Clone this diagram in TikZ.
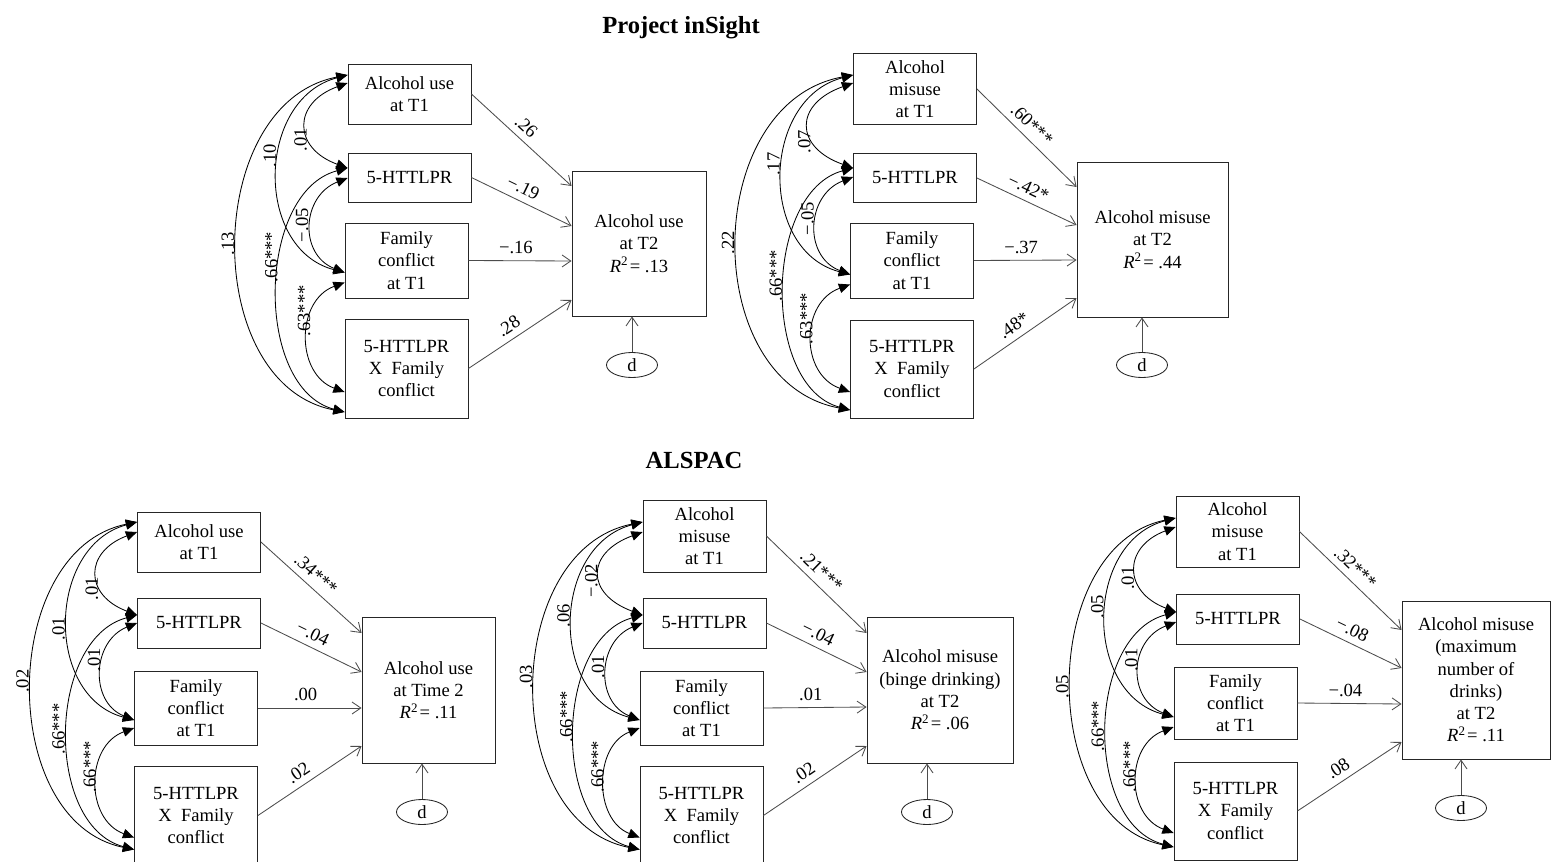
\documentclass[tikz,border=0pt]{standalone}
\usepackage{fontspec}
\setmainfont{Liberation Serif}
\usepackage{tikz}
\usetikzlibrary{arrows.meta,calc,shapes.geometric}
\tikzstyle{varbox} = [draw=black!85, line width=0.6pt, minimum width=3.075cm, inner sep=0pt, align=center, font=\fontsize{13.2}{15.8}\selectfont]
\tikzstyle{err} = [draw=black!85, line width=0.6pt, ellipse, minimum width=1.275cm, minimum height=0.625cm, inner sep=0pt, font=\fontsize{13.2}{15.8}\selectfont]
\tikzstyle{reg} = [line width=0.6pt, draw=black!70, ->, >={Straight Barb[length=0.22cm, width=0.3cm]}]
\tikzstyle{cov} = [line width=0.6pt, <->, >={Triangle[length=0.28cm, width=0.24cm]}]
\tikzstyle{coef} = [pos=.46, sloped, above, inner sep=4.5pt, font=\fontsize{13.2}{15.8}\selectfont]
\tikzstyle{covlab} = [rotate=90, anchor=south, inner sep=2pt, font=\fontsize{13.2}{15.8}\selectfont]
\tikzstyle{heading} = [font=\fontsize{17.5}{21}\selectfont\bfseries]

\begin{document}
\begin{tikzpicture}[x=0.025cm, y=-0.025cm]
        \useasboundingbox[fill=white] (0,0) rectangle (1551,861);

        % Project inSight
        \node[heading] (ttop) at (681,28) {Project inSight};

        \node[varbox, minimum height=1.5cm] (ia1) at (409.5,94) {Alcohol use\\at T1};
        \node[varbox, minimum height=1.225cm] (ia2) at (409.5,177.5) {5-HTTLPR};
        \node[varbox, minimum height=1.875cm] (ia3) at (406.5,260.5) {Family\\conflict\\at T1};
        \node[varbox, minimum height=2.475cm] (ia4) at (406.5,368.5) {5-HTTLPR\\X~~Family\\conflict};
        \node[varbox, minimum width=3.35cm, minimum height=3.625cm] (iay) at (639,243.5) {Alcohol use\\at T2\\\textit{R}\textsuperscript{2}\kern1pt= .13};
        \node[err] (iad) at (632,365) {d};

        \draw[reg] (ia1.east) -- ($(iay.west)+(0,-57.5)$) node[coef] {.26};
        \draw[reg] (ia2.east) -- ($(iay.west)+(0,-17.5)$) node[coef] {−.19};
        \draw[reg] (ia3.east) -- ($(iay.west)+(0,17.5)$) node[coef] {−.16};
        \draw[reg] (ia4.east) -- ($(iay.west)+(0,56.5)$) node[coef] {.28};
        \draw[reg] (iad) -- (iad |- iay.south);

        \draw[cov] ($(ia2.west)+(0,-9.5)$) .. controls +(-55,-20) and +(-55,20) .. ($(ia1.west)+(0,-11)$) node[covlab, pos=.35] {.01};
        \draw[cov] ($(ia3.west)+(0,12)$) .. controls +(-91,-24) and +(-91,24) .. ($(ia1.west)+(0,-19)$) node[covlab, pos=.57] {.10};
        \draw[cov] ($(ia4.west)+(0,43.5)$) .. controls +(-145,-28) and +(-145,28) .. ($(ia1.west)+(0,-19)$) node[covlab, pos=.5] {.13};
        \draw[cov] ($(ia3.west)+(0,12)$) .. controls +(-46,-18) and +(-46,18) .. ($(ia2.west)+(0,0.5)$) node[covlab, pos=.5] {−.05};
        \draw[cov] ($(ia4.west)+(0,43.5)$) .. controls +(-91,-24) and +(-91,24) .. ($(ia2.west)+(0,-9.5)$) node[covlab, pos=.6] {.66***};
        \draw[cov] ($(ia4.west)+(0,23.5)$) .. controls +(-49,-18) and +(-49,18) .. ($(ia3.west)+(0,22)$) node[covlab, pos=.7] {.63***};

        \node[varbox, minimum height=1.775cm] (ib1) at (915,89) {Alcohol\\misuse\\at T1};
        \node[varbox, minimum height=1.225cm] (ib2) at (915,178) {5-HTTLPR};
        \node[varbox, minimum height=1.875cm] (ib3) at (912,260.5) {Family\\conflict\\at T1};
        \node[varbox, minimum height=2.45cm] (ib4) at (912,369) {5-HTTLPR\\X~~Family\\conflict};
        \node[varbox, minimum width=3.775cm, minimum height=3.875cm] (iby) at (1152.5,239.5) {Alcohol misuse\\at T2\\\textit{R}\textsuperscript{2}\kern1pt= .44};
        \node[err] (ibd) at (1142,365) {d};

        \draw[reg] (ib1.east) -- ($(iby.west)+(0,-52.5)$) node[coef] {.60***};
        \draw[reg] (ib2.east) -- ($(iby.west)+(0,-14.5)$) node[coef] {−.42*};
        \draw[reg] (ib3.east) -- ($(iby.west)+(0,20.5)$) node[coef] {−.37};
        \draw[reg] (ib4.east) -- ($(iby.west)+(0,58.5)$) node[coef] {.48*};
        \draw[reg] (ibd) -- (ibd |- iby.south);

        \draw[cov] ($(ib2.west)+(0,-10)$) .. controls +(-59,-21) and +(-59,21) .. ($(ib1.west)+(0,-6)$) node[covlab, pos=.33] {.07};
        \draw[cov] ($(ib3.west)+(0,14)$) .. controls +(-92,-24) and +(-92,24) .. ($(ib1.west)+(0,-14)$) node[covlab, pos=.54] {.17};
        \draw[cov] ($(ib4.west)+(0,41)$) .. controls +(-152,-28) and +(-152,28) .. ($(ib1.west)+(0,-14)$) node[covlab, pos=.5] {.22};
        \draw[cov] ($(ib3.west)+(0,14)$) .. controls +(-47,-18) and +(-47,18) .. ($(ib2.west)+(0,-1)$) node[covlab, pos=.56] {−.05};
        \draw[cov] ($(ib4.west)+(0,41)$) .. controls +(-89,-24) and +(-89,24) .. ($(ib2.west)+(0,-10)$) node[covlab, pos=.54] {.66***};
        \draw[cov] ($(ib4.west)+(0,23)$) .. controls +(-50,-18) and +(-50,18) .. ($(ib3.west)+(0,24)$) node[covlab, pos=.65] {.63***};

        % ALSPAC
        \node[heading] (tbot) at (694,460) {ALSPAC};

        \node[varbox, minimum height=1.5cm] (aa1) at (199,542) {Alcohol use\\at T1};
        \node[varbox, minimum height=1.25cm] (aa2) at (199,623) {5-HTTLPR};
        \node[varbox, minimum height=1.85cm] (aa3) at (196,708) {Family\\conflict\\at T1};
        \node[varbox, minimum height=2.475cm] (aa4) at (196,815.5) {5-HTTLPR\\X~~Family\\conflict};
        \node[varbox, minimum width=3.325cm, minimum height=3.65cm] (aay) at (428.5,690) {Alcohol use\\at Time 2\\\textit{R}\textsuperscript{2}\kern1pt= .11};
        \node[err] (aad) at (422,812) {d};

        \draw[reg] (aa1.east) -- ($(aay.west)+(0,-57)$) node[coef] {.34***};
        \draw[reg] (aa2.east) -- ($(aay.west)+(0,-18)$) node[coef] {−.04};
        \draw[reg] (aa3.east) -- ($(aay.west)+(0,18)$) node[coef] {.00};
        \draw[reg] (aa4.east) -- ($(aay.west)+(0,56)$) node[coef] {.02};
        \draw[reg] (aad) -- (aad |- aay.south);

        \draw[cov] ($(aa2.west)+(0,-8)$) .. controls +(-53,-20) and +(-53,20) .. ($(aa1.west)+(0,-10)$) node[covlab, pos=.34] {.01};
        \draw[cov] ($(aa3.west)+(0,12)$) .. controls +(-90,-24) and +(-90,24) .. ($(aa1.west)+(0,-20)$) node[covlab, pos=.47] {.01};
        \draw[cov] ($(aa4.west)+(0,34)$) .. controls +(-138,-28) and +(-138,28) .. ($(aa1.west)+(0,-20)$) node[covlab, pos=.51] {.02};
        \draw[cov] ($(aa3.west)+(0,12)$) .. controls +(-45,-18) and +(-45,18) .. ($(aa2.west)+(0,0)$) node[covlab, pos=.6] {.01};
        \draw[cov] ($(aa4.west)+(0,34)$) .. controls +(-90,-24) and +(-90,24) .. ($(aa2.west)+(0,-8)$) node[covlab, pos=.51] {.66***};
        \draw[cov] ($(aa4.west)+(0,22)$) .. controls +(-49,-18) and +(-49,18) .. ($(aa3.west)+(0,20)$) node[covlab, pos=.62] {.66***};

        \node[varbox, minimum height=1.8cm] (ab1) at (704.5,536) {Alcohol\\misuse\\at T1};
        \node[varbox, minimum height=1.25cm] (ab2) at (704.5,623) {5-HTTLPR};
        \node[varbox, minimum height=1.85cm] (ab3) at (701.5,708) {Family\\conflict\\at T1};
        \node[varbox, minimum height=2.475cm] (ab4) at (701.5,815.5) {5-HTTLPR\\X~~Family\\conflict};
        \node[varbox, minimum width=3.65cm, minimum height=3.65cm] (aby) at (940,690) {Alcohol misuse\\(binge drinking)\\at T2\\\textit{R}\textsuperscript{2}\kern1pt= .06};
        \node[err] (abd) at (927,812) {d};

        \draw[reg] (ab1.east) -- ($(aby.west)+(0,-57)$) node[coef] {.21***};
        \draw[reg] (ab2.east) -- ($(aby.west)+(0,-18)$) node[coef] {−.04};
        \draw[reg] (ab3.east) -- ($(aby.west)+(0,17)$) node[coef] {.01};
        \draw[reg] (ab4.east) -- ($(aby.west)+(0,56)$) node[coef] {.02};
        \draw[reg] (abd) -- (abd |- aby.south);

        \draw[cov] ($(ab2.west)+(0,-8)$) .. controls +(-57,-21) and +(-57,21) .. ($(ab1.west)+(0,-4)$) node[covlab, pos=.42] {−.02};
        \draw[cov] ($(ab3.west)+(0,12)$) .. controls +(-91,-24) and +(-91,24) .. ($(ab1.west)+(0,-14)$) node[covlab, pos=.52] {.06};
        \draw[cov] ($(ab4.west)+(0,34)$) .. controls +(-141,-28) and +(-141,28) .. ($(ab1.west)+(0,-14)$) node[covlab, pos=.52] {.03};
        \draw[cov] ($(ab3.west)+(0,12)$) .. controls +(-45,-18) and +(-45,18) .. ($(ab2.west)+(0,0)$) node[covlab, pos=.54] {.01};
        \draw[cov] ($(ab4.west)+(0,34)$) .. controls +(-88,-24) and +(-88,24) .. ($(ab2.west)+(0,-8)$) node[covlab, pos=.55] {.66***};
        \draw[cov] ($(ab4.west)+(0,22)$) .. controls +(-46,-18) and +(-46,18) .. ($(ab3.west)+(0,20)$) node[covlab, pos=.62] {.66***};

        \node[varbox, minimum height=1.775cm] (ac1) at (1237.5,531.5) {Alcohol\\misuse\\at T1};
        \node[varbox, minimum height=1.25cm] (ac2) at (1238,619) {5-HTTLPR};
        \node[varbox, minimum height=1.8cm] (ac3) at (1235.5,703) {Family\\conflict\\at T1};
        \node[varbox, minimum height=2.45cm] (ac4) at (1235.5,811) {5-HTTLPR\\X~~Family\\conflict};
        \node[varbox, minimum width=3.7cm, minimum height=3.95cm] (acy) at (1476,680) {Alcohol misuse\\(maximum\\number of\\drinks)\\at T2\\\textit{R}\textsuperscript{2}\kern1pt= .11};
        \node[err] (acd) at (1461,808) {d};

        \draw[reg] (ac1.east) -- ($(acy.west)+(0,-50)$) node[coef] {.32***};
        \draw[reg] (ac2.east) -- ($(acy.west)+(0,-12)$) node[coef] {−.08};
        \draw[reg] (ac3.east) -- ($(acy.west)+(0,24)$) node[coef] {−.04};
        \draw[reg] (ac4.east) -- ($(acy.west)+(0,62)$) node[coef] {.08};
        \draw[reg] (acd) -- (acd |- acy.south);

        \draw[cov] ($(ac2.west)+(0,-7)$) .. controls +(-53,-20) and +(-53,20) .. ($(ac1.west)+(0,-4.5)$) node[covlab, pos=.41] {.01};
        \draw[cov] ($(ac3.west)+(0,14)$) .. controls +(-91,-24) and +(-91,24) .. ($(ac1.west)+(0,-13.5)$) node[covlab, pos=.54] {.05};
        \draw[cov] ($(ac4.west)+(0,36)$) .. controls +(-137,-28) and +(-137,28) .. ($(ac1.west)+(0,-13.5)$) node[covlab, pos=.49] {.05};
        \draw[cov] ($(ac3.west)+(0,14)$) .. controls +(-47,-18) and +(-47,18) .. ($(ac2.west)+(0,3)$) node[covlab, pos=.58] {.01};
        \draw[cov] ($(ac4.west)+(0,36)$) .. controls +(-90,-24) and +(-90,24) .. ($(ac2.west)+(0,-7)$) node[covlab, pos=.51] {.66***};
        \draw[cov] ($(ac4.west)+(0,22)$) .. controls +(-48,-18) and +(-48,18) .. ($(ac3.west)+(0,24)$) node[covlab, pos=.6] {.66***};

    \end{tikzpicture}
\end{document}
